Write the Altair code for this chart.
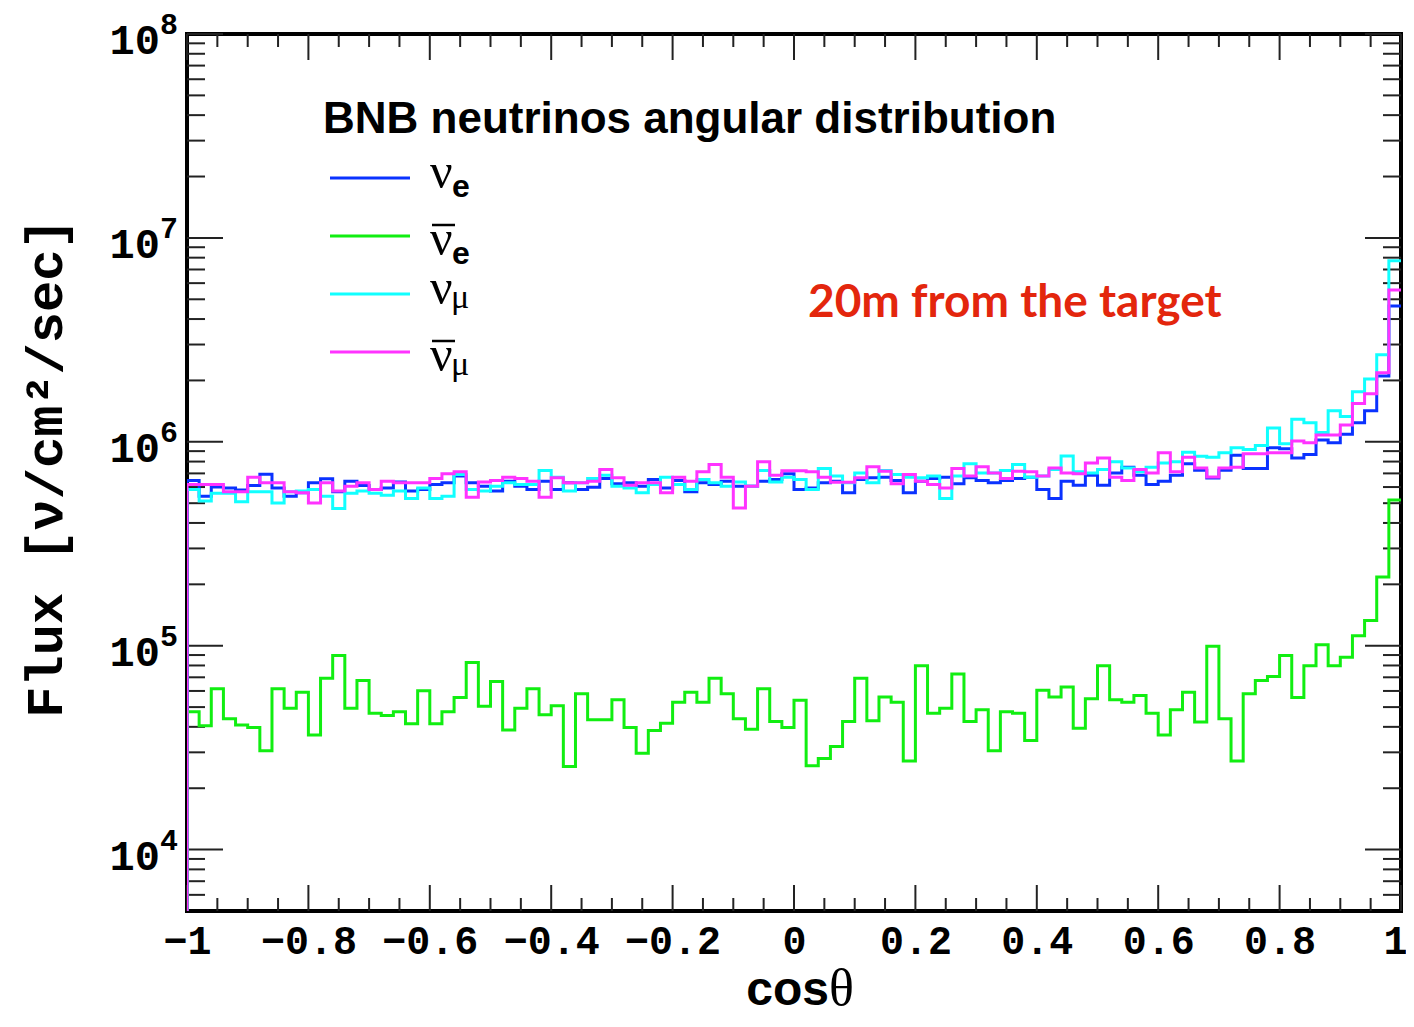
import altair as alt
import pandas as pd

# ---------------- data (flux per bin, in units of 1e3 nu/cm^2/sec) ----------------
series_names = ["nu_e", "nubar_e", "nu_mu", "nubar_mu"]
series_colors = ["#0a32ff", "#11ee11", "#11ffff", "#ff33ff"]

nue = [646, 541, 600, 594, 580, 610, 693, 594, 541, 562, 629, 658, 569, 641, 611, 584, 594,
       636, 573, 584, 618, 629, 679, 629, 606, 573, 641, 606, 584, 641, 584, 629, 584, 599,
       661, 622, 629, 606, 653, 594, 646, 569, 629, 618, 641, 606, 606, 641, 653, 697,
       584, 594, 629, 641, 562, 653, 666, 671, 646, 562, 641, 661, 671, 622, 666, 646,
       629, 646, 661, 671, 584, 527, 641, 612, 686, 612, 704, 751, 686, 618, 641, 686, 780,
       726, 665, 726, 860, 740, 740, 935, 925, 834, 867, 1020, 989, 1090, 1240, 1420, 2100, 4640]

nuebar = [47.5, 40.5, 61.5, 43.8, 40.9, 39.7, 30.5, 61.5, 49.4, 59.2, 36.5, 69.3, 89.6, 49.4, 67.6,
          46.6, 45.5, 47.5, 41.4, 60.1, 41.4, 47.5, 55.7, 82.8, 50.5,
          66.8, 38.6, 49.4, 61.5, 45.8, 50.7, 25.6, 58.1, 43.4, 43.4, 54.3, 39.7, 29.7, 38.4, 41.7,
          52.8, 59.2, 52.8, 69.3, 58.1, 43.8, 38.9, 61.5, 42.5, 39.7,
          54.0, 25.8, 28.0, 32.0, 42.5, 69.3, 42.9, 56.0, 52.8, 27.2, 79.8, 46.6, 49.4, 72.6, 42.5,
          48.5, 30.5, 47.5, 46.6, 34.3, 60.4, 56.0, 62.7, 39.4, 54.9,
          79.8, 54.3, 52.8, 57.0, 46.6, 36.5, 48.5, 59.2, 42.2, 99.3, 43.8, 27.2, 58.1, 67.6, 70.6,
          89.6, 55.7, 79.8, 101, 79.8, 87.9, 112, 133, 217, 518]

numu = [584, 512, 560, 560, 508, 569, 569, 501, 569, 573, 584, 541, 471, 560, 573, 560, 547,
        573, 527, 594, 527, 541, 692, 584, 573, 606, 629, 618, 618, 724, 671, 573, 629, 661,
        685, 606, 594, 562, 618, 671, 618, 584, 653, 629, 606, 636, 606, 724, 636, 671,
        653, 584, 740, 679, 629, 704, 629, 724, 692, 671, 666, 679, 527, 679, 780, 704,
        704, 724, 775, 671, 679, 731, 851, 713, 704, 731, 798, 745, 713, 751, 788, 798, 890,
        850, 841, 883, 935, 918, 960, 1170, 977, 1290, 1240, 1110, 1420, 1330, 1760, 2030, 2670, 7720]

numubar = [618, 618, 618, 569, 569, 671, 629, 629, 569, 562, 501, 629, 573, 606, 629, 584, 641,
           629, 629, 629, 661, 697, 713, 535, 636, 646, 671, 661, 641, 535, 666, 629, 629, 641,
           731, 666, 612, 629, 629, 562, 671, 641, 713, 775, 671, 474, 606, 798, 685, 721,
           721, 713, 671, 634, 634, 666, 754, 718, 622, 692, 641, 618, 594, 740, 679, 754,
           704, 661, 718, 713, 679, 745, 704, 697, 788, 834, 671, 646, 731, 704, 883, 713, 841,
           745, 673, 745, 751, 873, 873, 883, 883, 1010, 989, 1080, 1080, 1210, 1540, 1720, 2180, 5550]

x_min, x_max, n_bins = -1.0, 1.0, 100
y_min, y_max = 5000, 1e8

x_major = [-1, -0.8, -0.6, -0.4, -0.2, 0, 0.2, 0.4, 0.6, 0.8, 1]
x_minor = [round(-1 + 0.05 * i, 2) for i in range(41) if i % 4 != 0]
y_major = [1e4, 1e5, 1e6, 1e7, 1e8]
y_major_exp = ["4", "5", "6", "7", "8"]
y_minor = [m * 10 ** e for e in range(3, 8) for m in range(2, 10) if y_min < m * 10 ** e < y_max]

legend_title = "BNB neutrinos angular distribution"
note_text = "20m from the target"
y_title = "Flux  [ν/cm²/sec]"

# ---------------- layout constants ----------------
PAD_L, PAD_T, PAD_R, PAD_B = 179, 26, 5, 104
W, H = 1214, 877
X0, Y0 = 8 + PAD_L, 8 + PAD_T          # page position of the plot origin
MAJ_Y, MIN_Y = 36, 18
MAJ_X, MIN_X = 26, 13

def px(xp):  # page x -> plot x
    return xp - X0

def py(yp):  # page y -> plot y
    return yp - Y0

xs = alt.Scale(domain=[x_min, x_max], nice=False, zero=False)
ys = alt.Scale(type="log", domain=[y_min, y_max], nice=False)

x_axis = alt.Axis(values=x_major, format="~g", labelFont="Liberation Mono", labelFontWeight="bold",
                  labelFontSize=40, labelColor="black", ticks=False, domain=False, grid=False,
                  title=None, labelPadding=10, labelFlush=False, labelOverlap=False,
                  labelOffset=alt.condition("datum.value == 1", alt.value(-6), alt.value(0)))

# ---------------- histogram step lines ----------------
bw = (x_max - x_min) / n_bins
layers = []
for name, color, vals in zip(series_names, series_colors, [nue, nuebar, numu, numubar]):
    rows = [{"x": x_min, "v": y_min, "o": 0}]
    for i, val in enumerate(vals):
        rows.append({"x": x_min + i * bw, "v": val * 1000, "o": i + 1})
    rows.append({"x": x_max, "v": vals[-1] * 1000, "o": n_bins + 1})
    df = pd.DataFrame(rows)
    layers.append(
        alt.Chart(df).mark_line(interpolate="step-after", color=color, strokeWidth=3, clip=True)
        .encode(x=alt.X("x:Q", scale=xs, axis=x_axis),
                y=alt.Y("v:Q", scale=ys, axis=None),
                order="o:Q")
    )

# ---------------- ticks (inward, on all four sides) ----------------
tick_style = dict(color="#222222", strokeWidth=2)
ymaj = pd.DataFrame({"v": y_major})
ymin_df = pd.DataFrame({"v": y_minor})
xmaj = pd.DataFrame({"x": x_major})
xmin_df = pd.DataFrame({"x": x_minor})

def yticks(df, length):
    left = alt.Chart(df).mark_rule(**tick_style).encode(
        y=alt.Y("v:Q", scale=ys, axis=None), x=alt.value(0), x2=alt.value(length))
    right = alt.Chart(df).mark_rule(**tick_style).encode(
        y=alt.Y("v:Q", scale=ys, axis=None), x=alt.value(W), x2=alt.value(W - length))
    return [left, right]

def xticks(df, length):
    bottom = alt.Chart(df).mark_rule(**tick_style).encode(
        x=alt.X("x:Q", scale=xs, axis=x_axis), y=alt.value(H), y2=alt.value(H - length))
    top = alt.Chart(df).mark_rule(**tick_style).encode(
        x=alt.X("x:Q", scale=xs, axis=x_axis), y=alt.value(0), y2=alt.value(length))
    return [bottom, top]

tick_layers = yticks(ymaj, MAJ_Y) + yticks(ymin_df, MIN_Y) + xticks(xmaj, MAJ_X) + xticks(xmin_df, MIN_X)

# ---------------- y tick labels 10^n ----------------
ylab = pd.DataFrame({"v": y_major, "base": ["10"] * len(y_major), "exp": y_major_exp})
ylab_base = alt.Chart(ylab).mark_text(align="right", baseline="middle", font="Liberation Mono",
                                      fontWeight="bold", fontSize=42, color="black", dy=7).encode(
    y=alt.Y("v:Q", scale=ys, axis=None), x=alt.value(px(160)), text="base:N")
ylab_exp = alt.Chart(ylab).mark_text(align="left", baseline="middle", font="Liberation Mono",
                                     fontWeight="bold", fontSize=30, color="black", dy=-9).encode(
    y=alt.Y("v:Q", scale=ys, axis=None), x=alt.value(px(160)), text="exp:N")

one = pd.DataFrame({"k": [0]})

def label(text, x, y, **kw):
    return alt.Chart(one).mark_text(text=text, **kw).encode(x=alt.value(x), y=alt.value(y))

texts = [
    label("cos", px(829), py(1005), align="right", baseline="alphabetic", font="Liberation Sans",
          fontWeight="bold", fontSize=48, color="black"),
    label("θ", px(829), py(1005), align="left", baseline="alphabetic", font="Liberation Serif",
          fontSize=52, color="black"),
    label(y_title, px(46), py(468), align="center", baseline="middle", angle=270, font="Liberation Mono",
          fontWeight="bold", fontSize=52, color="black"),
    label(legend_title, px(323), py(133), align="left", baseline="alphabetic", font="Liberation Sans",
          fontWeight="bold", fontSize=44, color="black"),
    label(note_text, px(808), py(317), align="left", baseline="alphabetic", font="Lato",
          fontWeight="bold", fontSize=46, color="#e3260d"),
]

# ---------------- legend (manual, for sub/superscripts) ----------------
legend_layers = []
entry_y = [178, 236, 294, 352]   # page y of the legend lines
subs = ["e", "e", "μ", "μ"]
bars = [False, True, False, True]
for c, yy, sub, bar in zip(series_colors, entry_y, subs, bars):
    shift = 9 if bar else 0
    legend_layers.append(alt.Chart(one).mark_rule(color=c, strokeWidth=3).encode(
        x=alt.value(px(330)), x2=alt.value(px(410)), y=alt.value(py(yy))))
    nu_base = yy + 10 + shift
    legend_layers.append(label("ν", px(430), py(nu_base), align="left", baseline="alphabetic",
                               font="Liberation Serif", fontSize=50, color="black"))
    if sub == "e":
        legend_layers.append(label("e", px(452), py(yy + 19 + shift), align="left", baseline="alphabetic",
                                   font="Liberation Sans", fontWeight="bold", fontSize=32, color="black"))
    else:
        legend_layers.append(label("μ", px(451), py(yy + 14 + shift), align="left", baseline="alphabetic",
                                   font="Liberation Serif", fontSize=34, color="black"))
    if bar:
        legend_layers.append(alt.Chart(one).mark_rule(color="black", strokeWidth=2.5).encode(
            x=alt.value(px(432)), x2=alt.value(px(455)), y=alt.value(py(nu_base - 30))))

chart = alt.layer(*tick_layers, *layers, ylab_base, ylab_exp, *texts, *legend_layers).properties(
    width=W, height=H,
    autosize=alt.AutoSizeParams(type="none"),
    padding={"left": PAD_L, "top": PAD_T, "right": PAD_R, "bottom": PAD_B},
    background="white",
).configure_view(stroke="black", strokeWidth=4)

chart.save("out.html", embed_options={"renderer": "svg", "actions": False})
